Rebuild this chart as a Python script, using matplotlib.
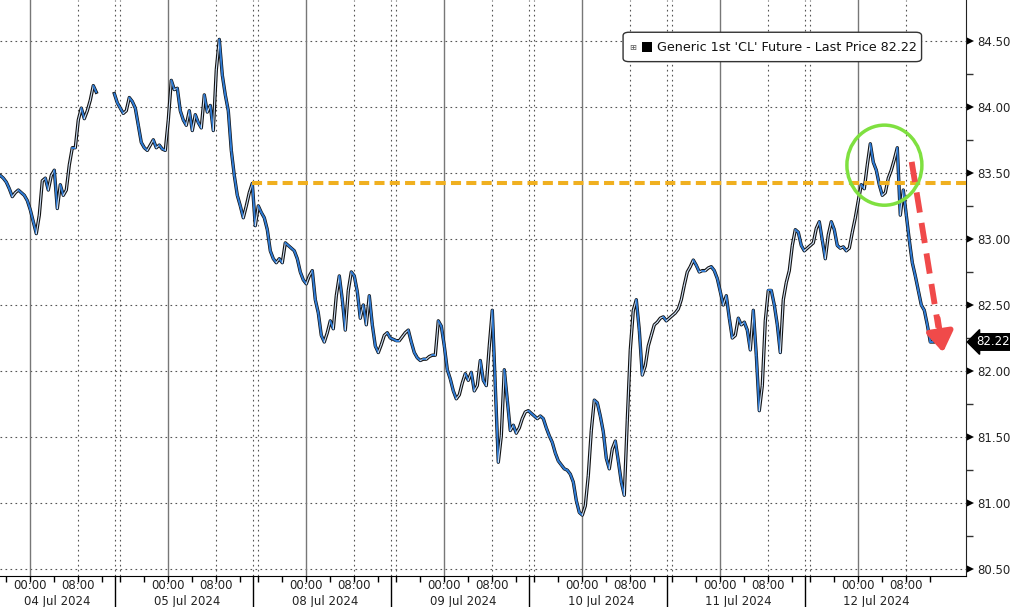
import numpy as np
import matplotlib.pyplot as plt
import matplotlib.transforms as mtransforms
from matplotlib.patches import Ellipse, FancyBboxPatch
from matplotlib.collections import LineCollection

# 30-minute closes for each session
days = ["04 Jul 2024", "05 Jul 2024", "08 Jul 2024", "09 Jul 2024",
        "10 Jul 2024", "11 Jul 2024", "12 Jul 2024"]
# first bar of each session, hours from that day's 00:00
session_start = [-5.0, -9.0, -8.5, -8.0, -8.0, -8.0, -8.0]

jul04 = [83.48, 83.46, 83.43, 83.38, 83.32, 83.35, 83.37, 83.35, 83.33, 83.29,
         83.22, 83.13, 83.04, 83.18, 83.44, 83.46, 83.37, 83.48, 83.52, 83.23,
         83.41, 83.33, 83.37, 83.56, 83.69, 83.69, 83.90, 83.99, 83.91, 83.97,
         84.05, 84.16, 84.11]
jul05 = [84.10, 84.03, 83.99, 83.95, 83.97, 84.07, 84.04, 83.99, 83.86, 83.73,
         83.69, 83.67, 83.71, 83.75, 83.69, 83.71, 83.68, 83.67, 83.90, 84.20,
         84.13, 84.14, 83.97, 83.90, 83.86, 83.97, 83.82, 83.94, 83.88, 83.84,
         84.09, 83.96, 84.01, 83.82, 84.28, 84.51, 84.24, 84.09, 83.97, 83.67,
         83.48, 83.33, 83.25, 83.16, 83.25, 83.35, 83.42]
jul08 = [83.10, 83.25, 83.20, 83.16, 83.07, 82.91, 82.85, 82.82, 82.85, 82.82,
         82.97, 82.95, 82.93, 82.91, 82.85, 82.75, 82.69, 82.66, 82.72, 82.76,
         82.54, 82.44, 82.27, 82.22, 82.29, 82.38, 82.32, 82.57, 82.72, 82.54,
         82.31, 82.61, 82.75, 82.72, 82.60, 82.40, 82.50, 82.35, 82.57, 82.35,
         82.19, 82.14, 82.20, 82.27, 82.29, 82.25]
jul09 = [82.23, 82.23, 82.26, 82.29, 82.31, 82.22, 82.14, 82.10, 82.08, 82.09,
         82.09, 82.11, 82.12, 82.12, 82.38, 82.34, 82.19, 82.01, 81.94, 81.85,
         81.79, 81.82, 81.91, 81.98, 81.93, 81.99, 81.85, 81.89, 82.08, 81.93,
         81.89, 82.19, 82.46, 81.89, 81.31, 81.51, 82.01, 81.78, 81.55, 81.59,
         81.53, 81.57, 81.64, 81.69, 81.70]
jul10 = [81.66, 81.64, 81.66, 81.64, 81.57, 81.51, 81.46, 81.38, 81.32, 81.29,
         81.26, 81.25, 81.22, 81.16, 81.02, 80.93, 80.91, 80.98, 81.21, 81.55,
         81.78, 81.76, 81.66, 81.54, 81.34, 81.26, 81.41, 81.47, 81.32, 81.16,
         81.06, 81.63, 82.16, 82.46, 82.54, 82.31, 81.97, 82.04, 82.19, 82.27,
         82.35, 82.37, 82.40, 82.41, 82.38]
jul11 = [82.42, 82.44, 82.47, 82.54, 82.65, 82.75, 82.79, 82.84, 82.80, 82.75,
         82.76, 82.76, 82.78, 82.79, 82.76, 82.70, 82.60, 82.50, 82.57, 82.40,
         82.25, 82.27, 82.40, 82.35, 82.37, 82.31, 82.16, 82.46, 82.12, 81.70,
         81.89, 82.38, 82.61, 82.61, 82.50, 82.35, 82.14, 82.54, 82.67, 82.76,
         82.95, 83.07, 83.05, 82.95, 82.91]
jul12 = [82.95, 82.97, 83.08, 83.13, 82.99, 82.85, 83.03, 83.13, 83.07, 82.95,
         82.93, 82.94, 82.91, 82.93, 83.05, 83.16, 83.29, 83.41, 83.38, 83.56,
         83.72, 83.58, 83.52, 83.41, 83.33, 83.35, 83.46, 83.52, 83.60, 83.69,
         83.18, 83.37, 83.18, 82.99, 82.82, 82.72, 82.61, 82.50, 82.46, 82.35,
         82.22, 82.22]
sessions = [jul04, jul05, jul08, jul09, jul10, jul11, jul12]

prior_close = 83.42
last_price = 82.22
y_ticks = [80.5, 81.0, 81.5, 82.0, 82.5, 83.0, 83.5, 84.0, 84.5]
legend_text = "Generic 1st 'CL' Future - Last Price 82.22"

# compressed trading-time axis: 23 h per day, session -8h .. +14.17h
day_len = 23.0
first_midnight = 5.05
sess_lo, sess_hi = -8.0, 14.17
day_zero = [first_midnight + day_len * k for k in range(len(days))]

blue = '#2f7bd4'
dotted = (0, (1.5, 3))

fig = plt.figure(figsize=(10.1, 6.07), dpi=100)
ax = fig.add_axes([0, 31 / 607, 966 / 1010, 576 / 607])
ax.set_xlim(0, 161)
ax.set_ylim(80.449, 84.808)

# grid
for y in y_ticks:
    ax.axhline(y, color='#555555', lw=0.8, ls=dotted, zorder=1)
for k, d0 in enumerate(day_zero):
    ax.axvline(d0, color='#777777', lw=1.0, zorder=1)
    ax.axvline(d0 + 8, color='#555555', lw=0.8, ls=dotted, zorder=1)
    if k < len(day_zero) - 1:
        ax.axvline(d0 + sess_hi, color='#555555', lw=0.8, ls=dotted, zorder=1)
        ax.axvline(d0 + day_len + sess_lo, color='#555555', lw=0.8,
                   ls=dotted, zorder=1)

# join sessions; break the line only at the holiday gap
xs, cs = [], []
for k, closes in enumerate(sessions):
    x = day_zero[k] + session_start[k] + 0.5 * np.arange(len(closes))
    if xs and x[0] - xs[-1][-1] <= 1.5:
        xs[-1] = np.concatenate([xs[-1], x])
        cs[-1] = np.concatenate([cs[-1], closes])
    else:
        xs.append(x)
        cs.append(np.array(closes))

# price line: dark outline, rising legs light, falling legs blue
for x, c in zip(xs, cs):
    ax.plot(x, c, color='#111111', lw=2.4, zorder=3, solid_joinstyle='round')
    pts = np.column_stack([x, c])
    segs = np.stack([pts[:-1], pts[1:]], axis=1)
    rising = c[1:] > c[:-1]
    cols = ['#cfe0f5' if r else blue for r in rising]
    widths = [0.8 if r else 1.4 for r in rising]
    ax.add_collection(LineCollection(segs, colors=cols, linewidths=widths,
                                     zorder=4, capstyle='round'))

# previous close line
x05_end = day_zero[1] + session_start[1] + 0.5 * (len(jul05) - 1)
ax.hlines(prior_close, x05_end, 161, color='#f0b020', lw=2.9,
          linestyles=(0, (2.5, 1.3)), zorder=5)

# green circle and red arrow
ax.add_patch(Ellipse((147.4, 83.558), 12.5, 0.606, fill=False,
                     ec='#7fe040', lw=2.5, zorder=6))
ax.plot([151.95, 156.4], [83.583, 82.33], color='#f04a4a', lw=4.2,
        ls=(0, (3.5, 1.8)), solid_capstyle='butt', zorder=6)
ax.annotate('', xy=(157.17, 82.141), xytext=(156.3, 82.40),
            arrowprops=dict(arrowstyle='-|>,head_length=1.2,head_width=0.8',
                            color='#f04a4a', lw=4, shrinkA=0, shrinkB=0),
            zorder=6)

# spines and axes
for s in ['left', 'top']:
    ax.spines[s].set_visible(False)
ax.spines['right'].set_color('#222222')
ax.spines['bottom'].set_color('black')
ax.yaxis.tick_right()
ax.set_yticks(y_ticks)
ax.set_yticklabels(['%.2f' % v for v in y_ticks], fontsize=8.5, color='#222222')
ax.set_yticks(np.arange(80.75, 84.6, 0.5), minor=True)
ax.tick_params(axis='y', which='major', length=0, pad=8)
ax.tick_params(axis='y', which='minor', length=5, width=1, color='#333333')

ytrans = mtransforms.blended_transform_factory(ax.transAxes, ax.transData)
tri = mtransforms.offset_copy(ytrans, fig=fig, x=4, y=0, units='dots')
ax.plot([1.0] * len(y_ticks), y_ticks, ls='none', marker='>', ms=6,
        color='black', mew=0, transform=tri, clip_on=False)

ax.text(1.0, last_price, '%.2f' % last_price,
        transform=mtransforms.offset_copy(ytrans, fig=fig, x=10, units='dots'),
        color='white', fontsize=8.5, va='center', ha='left',
        bbox=dict(boxstyle='larrow,pad=0.15', fc='black', ec='black'))

# x axis: ticks every 4h, labels at 00:00 and 08:00
minor_x = []
for d0 in day_zero:
    for h in [-8, -4, 0, 4, 8, 12]:
        if 0 <= d0 + h <= 161:
            minor_x.append(d0 + h)
ax.set_xticks(minor_x)
ax.set_xticklabels([])
ax.tick_params(axis='x', length=4, width=1, color='black')

xtrans = mtransforms.blended_transform_factory(ax.transData, ax.transAxes)
for k, d0 in enumerate(day_zero):
    for h, lab in [(0, '00:00'), (8, '08:00')]:
        ax.text(d0 + h, -0.017, lab, transform=xtrans, ha='center',
                va='center', fontsize=8.5, color='#222222')
    lo = 0 if k == 0 else d0 + sess_lo
    hi = d0 + sess_hi
    ax.text((lo + hi) / 2, -0.045, days[k], transform=xtrans, ha='center',
            va='center', fontsize=8.5, color='#222222')
    if k < len(day_zero) - 1:
        ax.plot([hi, hi], [0, -0.06], color='black', lw=1, transform=xtrans,
                clip_on=False)

# legend box
ax.add_patch(FancyBboxPatch((0.645, 0.893), 0.309, 0.051, transform=ax.transAxes,
                            boxstyle='round,pad=0,rounding_size=0.006',
                            fc='white', ec='#333333', lw=1, zorder=7))
ax.text(0.6555, 0.918, '\u229e', transform=ax.transAxes, fontsize=6,
        color='#555555', va='center', ha='center', zorder=8)
ax.plot([0.6695], [0.918], marker='s', ms=7.5, color='black', mew=0,
        transform=ax.transAxes, zorder=8)
ax.text(0.680, 0.918, legend_text, transform=ax.transAxes, fontsize=9.2,
        color='#111111', va='center', ha='left', zorder=8)

fig.savefig('out.png', dpi=100)
